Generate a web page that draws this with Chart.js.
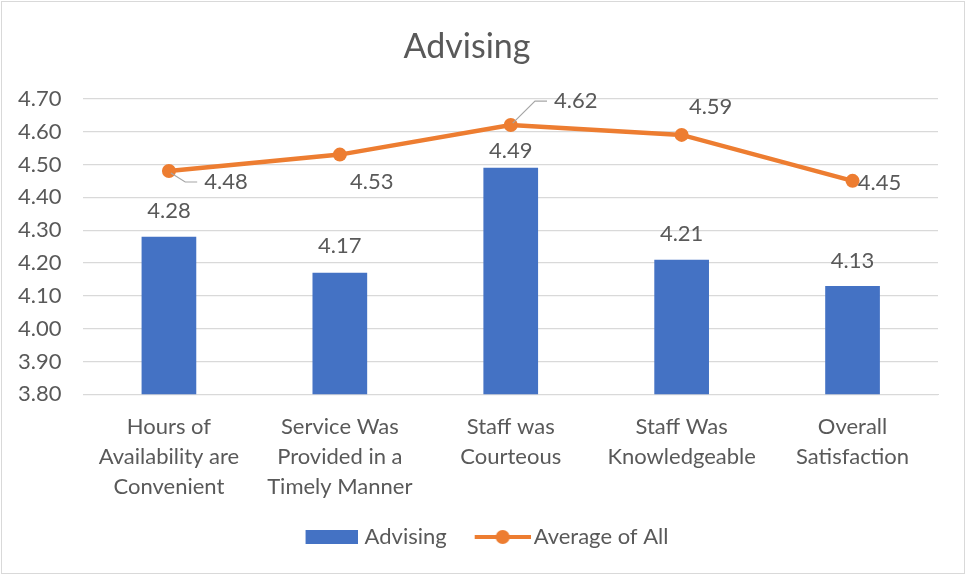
<!DOCTYPE html>
<html>
<head>
<meta charset="utf-8">
<title>Advising</title>
<script src="https://cdn.jsdelivr.net/npm/chart.js@4.4.1/dist/chart.umd.min.js"></script>
<style>
  html, body { margin: 0; padding: 0; background: #fff; }
  #wrap {
    width: 962px; height: 571px;
    border: 1px solid #d9d9d9;
    margin: 1px;
    position: relative;
  }
</style>
</head>
<body>
<div id="wrap"><canvas id="chart"></canvas></div>
<script>
// data
const categories = [
  ['Hours of', 'Availability are', 'Convenient'],
  ['Service Was', 'Provided in a', 'Timely Manner'],
  ['Staff was', 'Courteous'],
  ['Staff Was', 'Knowledgeable'],
  ['Overall', 'Satisfaction']
];
const advisingValues = [4.28, 4.17, 4.49, 4.21, 4.13];
const averageValues = [4.48, 4.53, 4.62, 4.59, 4.45];
const yTicks = [3.8, 3.9, 4.0, 4.1, 4.2, 4.3, 4.4, 4.5, 4.6, 4.7];

const BLUE = '#4472c4';
const ORANGE = '#ed7d31';
const TEXT = '#595959';
const FONT = 'Lato, "Open Sans", sans-serif';

// label placement (px offsets from the mark), leader = draw a callout line
const barLabelOffsets = [-26, -27, -17, -26, -25];
const lineLabelOffsets = [
  { dx: 57, dy: 11, leader: true },
  { dx: 32, dy: 27 },
  { dx: 65, dy: -24, leader: true },
  { dx: 29, dy: -28 },
  { dx: 27, dy: 2 }
];

// legend keys: drawn at the right end of a wider transparent image,
// so the key sits close to its text and far from the previous item
function legendKey(kind) {
  const c = document.createElement('canvas');
  const g = c.getContext('2d');
  if (kind === 'bar') {
    c.width = 70; c.height = 16;
    g.fillStyle = BLUE;
    g.fillRect(18, 1, 52, 14);
  } else {
    c.width = 78; c.height = 16;
    g.strokeStyle = ORANGE;
    g.lineWidth = 4;
    g.beginPath(); g.moveTo(22, 8); g.lineTo(78, 8); g.stroke();
    g.fillStyle = ORANGE;
    g.beginPath(); g.arc(50, 8, 7, 0, Math.PI * 2); g.fill();
  }
  return c;
}

// the plot padding is lopsided, nudge the legend back to the page centre
const legendNudge = {
  id: 'legendNudge',
  afterLayout(chart) {
    chart.legend.left += 13;
    chart.legend.right += 13;
  }
};

const valueLabels = {
  id: 'valueLabels',
  afterDatasetsDraw(chart) {
    const ctx = chart.ctx;
    ctx.save();
    ctx.font = '22px ' + FONT;
    ctx.fillStyle = TEXT;
    ctx.textBaseline = 'middle';

    chart.getDatasetMeta(0).data.forEach((bar, i) => {
      ctx.textAlign = 'center';
      ctx.fillText(advisingValues[i].toFixed(2), bar.x, bar.y + barLabelOffsets[i]);
    });

    chart.getDatasetMeta(1).data.forEach((pt, i) => {
      const o = lineLabelOffsets[i];
      const tx = pt.x + o.dx, ty = pt.y + o.dy;
      const txt = averageValues[i].toFixed(2);
      const w = ctx.measureText(txt).width;
      if (o.leader) {
        const endX = tx - w / 2 - 7;
        const elbowX = endX - 12;
        ctx.strokeStyle = '#a6a6a6';
        ctx.lineWidth = 1.2;
        ctx.beginPath();
        ctx.moveTo(pt.x + 2, pt.y + (o.dy > 0 ? 2 : -2));
        ctx.lineTo(elbowX, ty);
        ctx.lineTo(endX, ty);
        ctx.stroke();
      }
      ctx.textAlign = 'center';
      ctx.fillText(txt, tx, ty);
    });
    ctx.restore();
  }
};

new Chart(document.getElementById('chart'), {
  data: {
    labels: categories,
    datasets: [
      {
        type: 'bar',
        label: 'Advising',
        data: advisingValues,
        backgroundColor: BLUE,
        barPercentage: 0.64,
        categoryPercentage: 0.5,
        order: 2
      },
      {
        type: 'line',
        label: 'Average of All',
        data: averageValues,
        borderColor: ORANGE,
        backgroundColor: ORANGE,
        borderWidth: 4.5,
        pointRadius: 7,
        pointHoverRadius: 7,
        pointBorderWidth: 0,
        tension: 0,
        order: 1
      }
    ]
  },
  options: {
    responsive: true,
    maintainAspectRatio: false,
    animation: false,
    layout: { padding: { left: -6, right: 26, top: 25, bottom: 15 } },
    plugins: {
      title: {
        display: true,
        text: 'Advising',
        color: TEXT,
        font: { family: FONT, size: 34, weight: 'normal' },
        padding: { top: 0, bottom: 31 }
      },
      legend: {
        position: 'bottom',
        labels: {
          color: TEXT,
          font: { family: FONT, size: 22 },
          usePointStyle: true,
          pointStyleWidth: 62,
          padding: 14,
          generateLabels(chart) {
            return chart.data.datasets.map((ds, i) => ({
              text: ds.label,
              fontColor: TEXT,
              pointStyle: legendKey(i === 0 ? 'bar' : 'line'),
              datasetIndex: i,
              hidden: false
            }));
          }
        }
      },
      tooltip: { enabled: false }
    },
    scales: {
      x: {
        grid: { display: false },
        border: { color: '#d9d9d9' },
        ticks: {
          color: TEXT,
          font: { family: FONT, size: 22, lineHeight: 1.36 },
          maxRotation: 0,
          padding: 10
        }
      },
      y: {
        min: yTicks[0],
        max: yTicks[yTicks.length - 1],
        afterBuildTicks(axis) {
          axis.ticks = yTicks.map(v => ({ value: v }));
        },
        grid: { color: '#d9d9d9', lineWidth: 1.2, drawTicks: false },
        border: { display: false },
        ticks: {
          color: TEXT,
          font: { family: FONT, size: 22 },
          padding: 22,
          callback: v => v.toFixed(2)
        }
      }
    }
  },
  plugins: [valueLabels, legendNudge]
});
</script>
</body>
</html>
